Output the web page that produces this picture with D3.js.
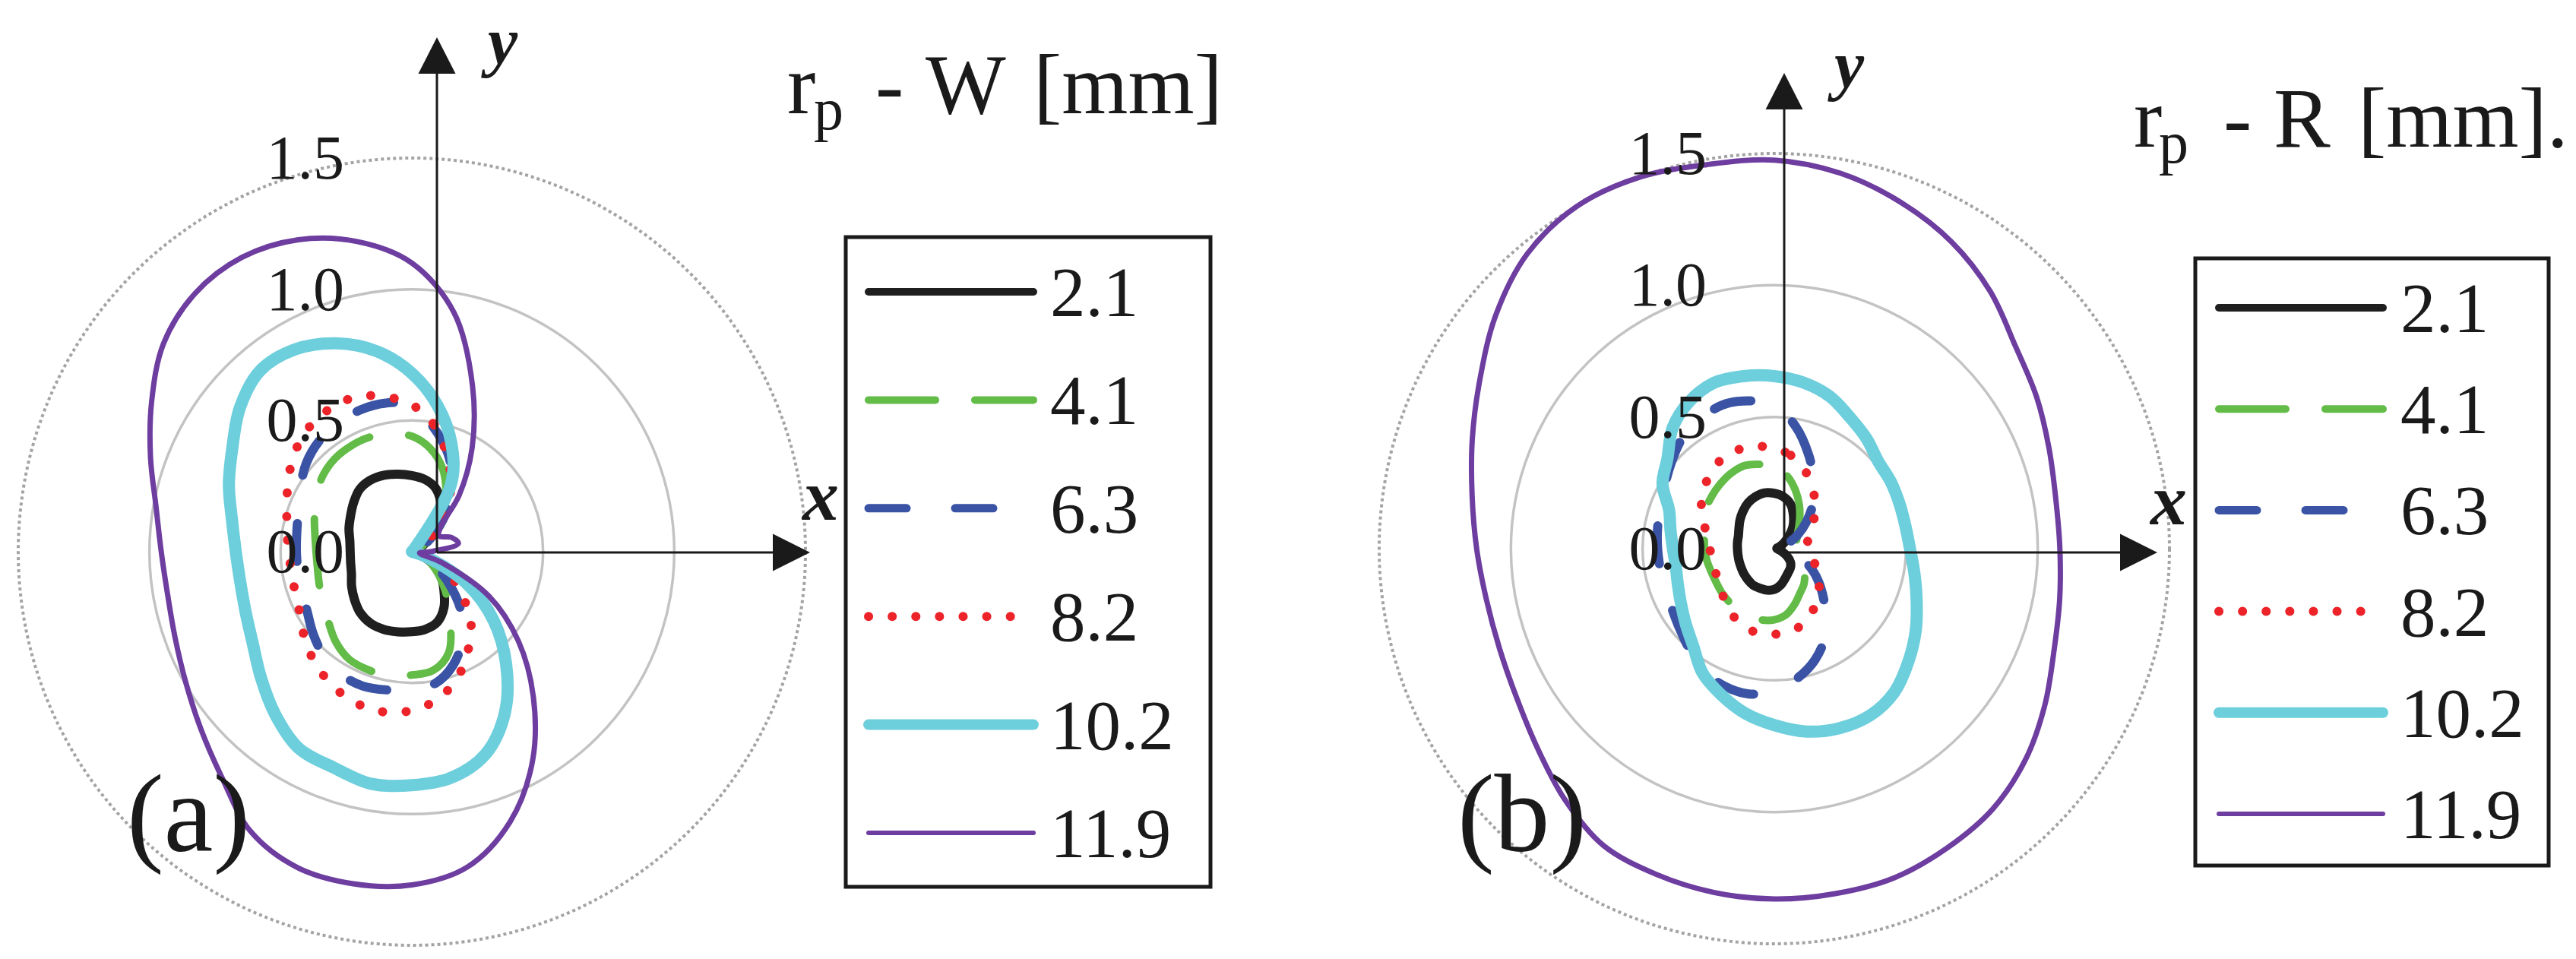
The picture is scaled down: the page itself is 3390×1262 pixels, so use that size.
<!DOCTYPE html>
<html>
<head>
<meta charset="utf-8">
<script src="https://cdn.jsdelivr.net/npm/d3@7"></script>
<style>
  html, body { margin: 0; padding: 0; background: #ffffff; }
  svg { display: block; }
</style>
</head>
<body>
<svg id="chart" width="3390" height="1262"></svg>
<script>
// ---------------- DATA ----------------
// polar angle categories (degrees, clockwise from the top)
const angles = [0,10,20,30,40,50,60,70,80,90,100,110,120,130,140,150,160,170,
                180,190,200,210,220,230,240,250,260,270,280,290,300,310,320,330,340,350];

const seriesNames = ["2.1", "4.1", "6.3", "8.2", "10.2", "11.9"];
const gridValues = [0.5, 1.0, 1.5];
const tickValues = [0.0, 0.5, 1.0, 1.5];
const tickLabels = ["0.0", "0.5", "1.0", "1.5"];

// Panel (a): r_p - W [mm]
const W_2_1  = [0.29,0.28,0.26,0.22,0.17,0.10,0.05,0.025,0.015,0.015,0.02,0.04,0.09,0.145,0.19,0.245,0.285,0.30,
                0.305,0.31,0.315,0.315,0.305,0.285,0.265,0.245,0.237,0.235,0.24,0.255,0.27,0.29,0.31,0.315,0.31,0.30];
const W_4_1  = [0.44,0.40,0.34,0.26,0.18,0.10,0.05,0.02,0.01,0.01,0.02,0.04,0.08,0.13,0.20,0.29,0.41,0.46,
                0.47,0.48,0.48,0.475,0.45,0.415,0.39,0.375,0.365,0.365,0.375,0.395,0.42,0.445,0.46,0.465,0.465,0.455];
const W_6_3  = [0.56,0.48,0.40,0.31,0.21,0.12,0.06,0.03,0.02,0.02,0.03,0.05,0.10,0.18,0.29,0.385,0.46,0.51,
                0.525,0.535,0.545,0.54,0.52,0.49,0.46,0.445,0.44,0.44,0.445,0.46,0.49,0.525,0.55,0.565,0.575,0.575];
const W_8_2  = [0.56,0.49,0.39,0.30,0.20,0.11,0.06,0.03,0.02,0.02,0.03,0.07,0.16,0.245,0.35,0.43,0.51,0.57,
                0.605,0.62,0.615,0.595,0.565,0.53,0.49,0.472,0.465,0.47,0.483,0.507,0.544,0.584,0.614,0.628,0.627,0.60];
const W_10_2 = [0.68,0.565,0.44,0.30,0.02,0,0,0,0,0,0,0.06,0.24,0.406,0.559,0.709,0.821,0.874,
                0.89,0.898,0.875,0.864,0.81,0.75,0.70,0.674,0.664,0.671,0.696,0.742,0.79,0.855,0.90,0.89,0.845,0.776];
const W_11_9 = [1.10,0.925,0.675,0.46,0.28,0.14,0.12,0.16,0.18,0.07,0.03,0.12,0.34,0.53,0.72,0.92,1.095,1.22,
                1.27,1.285,1.28,1.23,1.125,1.05,0.995,0.96,0.945,0.955,0.99,1.06,1.145,1.235,1.285,1.295,1.265,1.20];

// Panel (b): r_p - R [mm]
const R_2_1  = [0.21,0.20,0.18,0.145,0.11,0.07,0.04,0.02,0.01,0.01,0.015,0.03,0.055,0.08,0.095,0.105,0.12,0.14,
                0.155,0.16,0.16,0.16,0.155,0.15,0.145,0.142,0.14,0.14,0.142,0.145,0.155,0.17,0.185,0.20,0.21,0.215];
const R_4_1  = [0.31,0.28,0.235,0.19,0.15,0.12,0.10,0.09,0.085,0.085,0.09,0.105,0.125,0.15,0.175,0.195,0.225,0.255,
                0.27,0.275,0.275,0.27,0.265,0.26,0.255,0.255,0.26,0.265,0.27,0.285,0.30,0.31,0.32,0.33,0.335,0.325];
const R_6_3  = [0.545,0.47,0.38,0.30,0.23,0.16,0.10,0.05,0.02,0.02,0.05,0.11,0.17,0.23,0.30,0.385,0.45,0.50,
                0.54,0.56,0.555,0.535,0.50,0.47,0.45,0.443,0.44,0.443,0.45,0.46,0.48,0.51,0.545,0.565,0.58,0.57];
const R_8_2  = [0.38,0.36,0.325,0.28,0.24,0.20,0.165,0.14,0.128,0.13,0.145,0.163,0.19,0.222,0.25,0.283,0.308,0.32,
                0.325,0.327,0.318,0.302,0.28,0.26,0.245,0.24,0.239,0.245,0.258,0.285,0.32,0.35,0.375,0.395,0.40,0.395];
const R_10_2 = [0.655,0.64,0.615,0.575,0.545,0.515,0.51,0.505,0.505,0.515,0.54,0.575,0.62,0.665,0.71,0.73,0.725,0.705,
                0.67,0.635,0.59,0.545,0.48,0.44,0.41,0.39,0.38,0.385,0.40,0.425,0.49,0.53,0.60,0.645,0.67,0.665];
const R_11_9 = [1.475,1.447,1.40,1.345,1.275,1.195,1.15,1.11,1.085,1.084,1.10,1.13,1.186,1.245,1.29,1.312,1.33,1.33,
                1.33,1.325,1.315,1.30,1.24,1.175,1.13,1.11,1.11,1.13,1.165,1.22,1.29,1.38,1.46,1.50,1.50,1.48];

// ---------------- STYLES ----------------
const seriesStyles = [
  { color: "#1f1f1f", width: 12, lwidth: 10, dash: null },
  { color: "#63bb48", width: 10, lwidth: 10, dash: "88,52" },
  { color: "#3a53a4", width: 12, lwidth: 11, dash: "50,64" },
  { color: "#ec2329", width: 12, lwidth: 12, dash: "0.1,31" },
  { color: "#6dcedc", width: 16, lwidth: 14, dash: null },
  { color: "#6d3d9f", width: 7,  lwidth: 6,  dash: null }
];

const serif = "'Liberation Serif', 'Times New Roman', 'DejaVu Serif', serif";
const svg = d3.select("#chart");
const deg = Math.PI / 180;

function drawPanel(p) {
  const r = d3.scaleLinear().domain([0, 1.5]).range([0, p.outer]);
  const g = svg.append("g").attr("transform", `translate(${p.cx},${p.cy})`);

  // grid circles
  g.selectAll("circle.grid").data(gridValues).join("circle")
    .attr("class", "grid")
    .attr("r", d => r(d))
    .attr("fill", "none")
    .attr("stroke", d => d === 1.5 ? "#a4a4a4" : "#c3c3c3")
    .attr("stroke-width", d => d === 1.5 ? 4 : 3.5)
    .attr("stroke-dasharray", d => d === 1.5 ? "4,4" : null);

  // series curves
  const line = d3.lineRadial()
    .angle(d => d[0] * deg)
    .radius(d => r(d[1]))
    .curve(d3.curveCatmullRomClosed.alpha(0.5));

  p.series.forEach((vals, i) => {
    const st = seriesStyles[i];
    g.append("path")
      .datum(angles.map((a, j) => [a, vals[j]]))
      .attr("d", line)
      .attr("fill", "none")
      .attr("stroke", st.color)
      .attr("stroke-width", st.width)
      .attr("stroke-linecap", "round")
      .attr("stroke-linejoin", "round")
      .attr("stroke-dasharray", st.dash);
  });

  // axes with arrowheads
  const ax = svg.append("g");
  ax.append("line").attr("x1", p.ox).attr("y1", p.oy).attr("x2", p.ox).attr("y2", p.yTip + 45)
    .attr("stroke", "#1a1a1a").attr("stroke-width", 3);
  ax.append("line").attr("x1", p.ox).attr("y1", p.oy).attr("x2", p.xTip - 45).attr("y2", p.oy)
    .attr("stroke", "#1a1a1a").attr("stroke-width", 3);
  ax.append("path")
    .attr("d", `M${p.ox},${p.yTip} L${p.ox - 24.5},${p.yTip + 48} L${p.ox + 24.5},${p.yTip + 48} Z`)
    .attr("fill", "#1a1a1a");
  ax.append("path")
    .attr("d", `M${p.xTip},${p.oy} L${p.xTip - 49},${p.oy - 24.5} L${p.xTip - 49},${p.oy + 24.5} Z`)
    .attr("fill", "#1a1a1a");

  // radial tick labels
  g.selectAll("text.tick").data(tickValues).join("text")
    .attr("class", "tick")
    .attr("x", -89)
    .attr("y", d => -r(d) + 27)
    .attr("text-anchor", "end")
    .attr("font-family", serif)
    .attr("font-size", 82)
    .attr("fill", "#1a1a1a")
    .text((d, i) => tickLabels[i]);

  // axis names
  svg.append("text").attr("x", p.yLab[0]).attr("y", p.yLab[1])
    .attr("font-family", serif).attr("font-size", 88).attr("font-weight", "bold")
    .attr("font-style", "italic").attr("fill", "#1a1a1a").text("y");
  svg.append("text").attr("x", p.xLab[0]).attr("y", p.xLab[1])
    .attr("font-family", serif).attr("font-size", 96).attr("font-weight", "bold")
    .attr("font-style", "italic").attr("fill", "#1a1a1a").text("x");

  // panel letter
  svg.append("text").attr("x", p.letterPos[0]).attr("y", p.letterPos[1])
    .attr("font-family", serif).attr("font-size", 146).attr("fill", "#1a1a1a").text(p.letter);

  // title
  const t = p.title;
  const tg = svg.append("g").attr("font-family", serif).attr("fill", "#1a1a1a");
  tg.append("text").attr("x", t.x[0]).attr("y", t.base).attr("font-size", 112).text("r");
  tg.append("text").attr("x", t.x[1]).attr("y", t.base + 21).attr("font-size", 78).text("p");
  tg.append("text").attr("x", t.x[2]).attr("y", t.base).attr("font-size", 112).text("-");
  tg.append("text").attr("x", t.x[3]).attr("y", t.base).attr("font-size", 112).text(t.letter);
  tg.append("text").attr("x", t.x[4]).attr("y", t.base).attr("font-size", 112).text(t.unit);

  // legend
  const L = p.legend;
  svg.append("rect").attr("x", L.x).attr("y", L.y).attr("width", L.w).attr("height", L.h)
    .attr("fill", "#ffffff").attr("stroke", "#1a1a1a").attr("stroke-width", 5);
  seriesNames.forEach((name, i) => {
    const st = seriesStyles[i];
    const yy = L.y0 + i * L.step;
    svg.append("line").attr("x1", L.lx1).attr("x2", L.lx2).attr("y1", yy).attr("y2", yy)
      .attr("stroke", st.color).attr("stroke-width", st.lwidth)
      .attr("stroke-linecap", "round").attr("stroke-dasharray", st.dash);
    svg.append("text").attr("x", L.tx).attr("y", yy + 32)
      .attr("font-family", serif).attr("font-size", 93).attr("fill", "#1a1a1a").text(name);
  });
}

drawPanel({
  cx: 542, cy: 726, outer: 518,
  ox: 575, oy: 727, yTip: 49, xTip: 1066,
  series: [W_2_1, W_4_1, W_6_3, W_8_2, W_10_2, W_11_9],
  yLab: [642, 84], xLab: [1056, 684],
  letter: "(a)", letterPos: [167, 1120],
  title: { x: [1036, 1071, 1152, 1218, 1360], base: 149, letter: "W", unit: "[mm]" },
  legend: { x: 1113, y: 312, w: 480, h: 855, y0: 384, step: 142.4, lx1: 1143, lx2: 1360, tx: 1382 }
});

drawPanel({
  cx: 2335, cy: 722, outer: 520,
  ox: 2348, oy: 727, yTip: 96, xTip: 2839,
  series: [R_2_1, R_4_1, R_6_3, R_8_2, R_10_2, R_11_9],
  yLab: [2414, 115], xLab: [2830, 690],
  letter: "(b)", letterPos: [1918, 1120],
  title: { x: [2808, 2841, 2926, 2992, 3103], base: 193, letter: "R", unit: "[mm]." },
  legend: { x: 2889, y: 340, w: 465, h: 799, y0: 405, step: 133.2, lx1: 2920, lx2: 3136, tx: 3159 }
});
</script>
</body>
</html>
